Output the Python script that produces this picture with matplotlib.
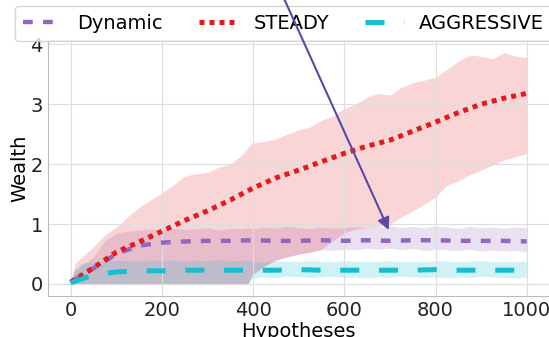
import numpy as np
import matplotlib.pyplot as plt

# mean curves, sampled every 50 hypotheses
hyp = [0, 50, 100, 150, 200, 250, 300, 350, 400, 450, 500,
       550, 600, 650, 700, 750, 800, 850, 900, 950, 1000]
dynamic_mean = [0.03, 0.26, 0.50, 0.64, 0.69, 0.71, 0.72, 0.72, 0.73, 0.72, 0.72,
                0.73, 0.72, 0.73, 0.72, 0.73, 0.73, 0.72, 0.72, 0.72, 0.71]
steady_mean = [0.03, 0.27, 0.53, 0.70, 0.88, 1.06, 1.22, 1.40, 1.60, 1.77, 1.90,
               2.04, 2.18, 2.30, 2.40, 2.55, 2.70, 2.86, 3.00, 3.10, 3.18]
aggressive_mean = [0.02, 0.15, 0.20, 0.22, 0.22, 0.23, 0.23, 0.23, 0.23, 0.23, 0.24,
                   0.23, 0.23, 0.23, 0.23, 0.23, 0.24, 0.23, 0.23, 0.23, 0.23]

# spread bands
band_x = [0, 10, 25, 50, 75, 100, 125, 150, 175, 200, 225, 250, 275, 300, 325, 350, 375,
          389, 398, 425, 450, 475, 500, 525, 550, 575, 600, 625, 650, 675, 700,
          725, 750, 775, 800, 825, 850, 875, 900, 925, 950, 975, 1000]
steady_hi = [0.05, 0.35, 0.45, 0.62, 0.82, 0.95, 1.12, 1.28, 1.40, 1.52, 1.65, 1.80, 1.84, 1.86, 1.95, 2.00, 2.15,
             2.28, 2.35, 2.38, 2.42, 2.50, 2.57, 2.62, 2.73, 2.80, 2.93, 3.00, 3.12, 3.18, 3.15,
             3.28, 3.36, 3.40, 3.45, 3.58, 3.72, 3.82, 3.80, 3.76, 3.86, 3.80, 3.78]
steady_lo = [0, 0, 0, 0, 0, 0, 0, 0, 0, 0, 0, 0, 0, 0, 0, 0, 0,
             0, 0.15, 0.30, 0.40, 0.45, 0.50, 0.53, 0.58, 0.72, 0.85, 0.92, 0.93, 0.95, 1.00,
             1.12, 1.22, 1.33, 1.45, 1.65, 1.72, 1.82, 1.90, 1.98, 2.07, 2.12, 2.18]
dynamic_hi = [0.05, 0.22, 0.32, 0.45, 0.72, 0.85, 0.88, 0.90, 0.92, 0.90, 0.93, 0.91, 0.92, 0.94, 0.90, 0.93, 0.92,
              0.94, 0.92, 0.95, 0.93, 0.96, 0.94, 0.92, 0.95, 0.93, 0.94, 0.96, 0.93, 0.95, 0.97,
              0.94, 0.96, 0.94, 0.97, 0.95, 0.93, 0.96, 0.94, 0.95, 0.93, 0.95, 0.94]
dynamic_lo = [0, 0, 0, 0, 0, 0, 0, 0, 0, 0, 0, 0, 0, 0, 0, 0, 0,
              0, 0.15, 0.30, 0.40, 0.45, 0.50, 0.53, 0.57, 0.56, 0.58, 0.57, 0.60, 0.58, 0.60,
              0.57, 0.59, 0.56, 0.58, 0.57, 0.56, 0.58, 0.55, 0.57, 0.55, 0.56, 0.54]
aggressive_hi = [0.05, 0.25, 0.35, 0.37, 0.38, 0.40, 0.39, 0.38, 0.40, 0.39, 0.40, 0.38, 0.40, 0.39, 0.41, 0.39, 0.40,
                 0.40, 0.38, 0.37, 0.39, 0.38, 0.37, 0.39, 0.38, 0.37, 0.39, 0.38, 0.37, 0.38, 0.39,
                 0.37, 0.38, 0.37, 0.39, 0.38, 0.37, 0.38, 0.39, 0.37, 0.38, 0.37, 0.38]
aggressive_lo = [0, 0, 0, 0, 0, 0, 0, 0, 0, 0, 0, 0, 0, 0, 0, 0, 0,
                 0, 0.10, 0.12, 0.11, 0.13, 0.12, 0.11, 0.12, 0.13, 0.11, 0.12, 0.10, 0.12, 0.11,
                 0.13, 0.12, 0.11, 0.12, 0.10, 0.12, 0.11, 0.13, 0.12, 0.11, 0.10, 0.12]

c_dyn = '#9467bd'
c_steady = '#e41a1c'
c_aggr = '#17becf'

fig = plt.figure(figsize=(5.49, 3.37), dpi=100)
ax = fig.add_axes([0.087, 0.1226, 0.914, 0.7585])

ax.fill_between(band_x, dynamic_lo, dynamic_hi, color=c_dyn, alpha=0.2, lw=0)
ax.fill_between(band_x, steady_lo, steady_hi, color=c_steady, alpha=0.18, lw=0)
ax.fill_between(band_x, aggressive_lo, aggressive_hi, color=c_aggr, alpha=0.2, lw=0)

ax.plot(hyp, dynamic_mean, color=c_dyn, lw=3.2, linestyle=(0, (2.2, 2.3)), label='Dynamic')
ax.plot(hyp, steady_mean, color=c_steady, lw=3.6, linestyle=(0, (1, 1)), label='STEADY')
ax.plot(hyp, aggressive_mean, color=c_aggr, lw=3.6, linestyle=(0, (3.8, 3.95)), label='AGGRESSIVE')

ax.set_xlim(-50, 1050)
ax.set_ylim(-0.195, 4.07)
ax.set_xticks([0, 200, 400, 600, 800, 1000])
ax.set_yticks([0, 1, 2, 3, 4])
ax.grid(True, color='#dddddd', lw=0.8)
for s in ax.spines.values():
    s.set_color('#bbbbbb')
ax.tick_params(length=0, labelsize=14, pad=3.5, colors='#222222')
ax.set_xlabel('Hypotheses', fontsize=14, labelpad=2)
ax.set_ylabel('Wealth', fontsize=14, labelpad=0.5)

ax.legend(loc='upper left', bbox_to_anchor=(15 / 549, 1 - 6 / 337), bbox_transform=fig.transFigure,
          ncol=3, fontsize=14, borderaxespad=0, columnspacing=1.85, edgecolor='0.8')

ann = ax.annotate('', xy=(700, 0.86), xytext=(430, 5.4),
                  arrowprops=dict(arrowstyle='-|>', color='#5b47a6', lw=1.5, mutation_scale=18),
                  annotation_clip=False, zorder=10)
ann.arrow_patch.set_clip_on(False)

fig.savefig('out.png', dpi=100)
